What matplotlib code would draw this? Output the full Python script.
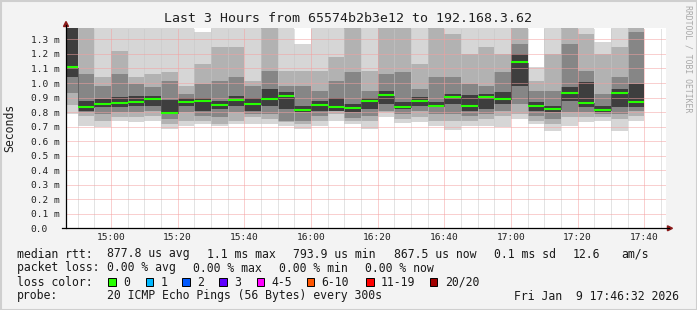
import matplotlib
matplotlib.use("Agg")
import matplotlib.pyplot as plt
from matplotlib.patches import Rectangle, Polygon

# ---------------- data ----------------
bar_starts = ["14:45", "14:50", "14:55", "15:00", "15:05", "15:10", "15:15",
              "15:20", "15:25", "15:30", "15:35", "15:40", "15:45", "15:50",
              "15:55", "16:00", "16:05", "16:10", "16:15", "16:20", "16:25",
              "16:30", "16:35", "16:40", "16:45", "16:50", "16:55", "17:00",
              "17:05", "17:10", "17:15", "17:20", "17:25", "17:30", "17:35"]

# median RTT per 5-minute step (ms)
median_ms = [1.112, 0.837, 0.855, 0.862, 0.869, 0.892, 0.7935, 0.869, 0.878, 0.851,
             0.885, 0.858, 0.892, 0.913, 0.812, 0.851, 0.837, 0.828, 0.878, 0.920,
             0.837, 0.878, 0.842, 0.906, 0.844, 0.906, 0.890, 1.147, 0.842, 0.823,
             0.933, 0.865, 0.812, 0.933, 0.8675]

# smoke bands (ms): outermost (lightest) to innermost (darkest)
band1_lo = [0.787, 0.706, 0.695, 0.741, 0.729, 0.741, 0.683, 0.706, 0.718, 0.706,
            0.718, 0.718, 0.718, 0.706, 0.683, 0.706, 0.741, 0.718, 0.683, 0.764,
            0.722, 0.729, 0.706, 0.676, 0.706, 0.706, 0.695, 0.752, 0.718, 0.667,
            0.706, 0.729, 0.741, 0.672, 0.741]
band1_hi = [1.45, 1.45, 1.45, 1.45, 1.45, 1.45, 1.45, 1.45, 1.349, 1.45,
            1.45, 1.45, 1.45, 1.45, 1.268, 1.45, 1.45, 1.45, 1.45, 1.45,
            1.45, 1.45, 1.45, 1.45, 1.45, 1.45, 1.45, 1.45, 1.108, 1.45,
            1.45, 1.45, 1.280, 1.45, 1.45]
band2_lo = [0.850, 0.775, 0.741, 0.764, 0.764, 0.775, 0.718, 0.741, 0.741, 0.718,
            0.741, 0.764, 0.752, 0.729, 0.718, 0.741, 0.787, 0.741, 0.741, 0.798,
            0.752, 0.764, 0.741, 0.741, 0.741, 0.752, 0.775, 0.787, 0.741, 0.718,
            0.764, 0.764, 0.764, 0.752, 0.775]
band2_hi = [1.45, 1.45, 1.039, 1.223, 1.039, 1.062, 1.074, 0.982, 1.131, 1.247,
            1.247, 1.016, 1.45, 1.085, 1.085, 1.085, 1.177, 1.45, 1.085, 1.45,
            1.45, 1.131, 1.45, 1.337, 1.200, 1.245, 1.200, 1.45, 1.016, 1.200,
            1.45, 1.337, 1.200, 1.245, 1.45]
band3_lo = [0.930, 0.800, 0.787, 0.798, 0.798, 0.810, 0.752, 0.798, 0.775, 0.764,
            0.798, 0.787, 0.787, 0.741, 0.741, 0.775, 0.805, 0.760, 0.775, 0.810,
            0.787, 0.805, 0.787, 0.787, 0.775, 0.787, 0.810, 0.856, 0.775, 0.752,
            0.798, 0.798, 0.787, 0.787, 0.810]
band3_hi = [1.45, 1.062, 0.982, 1.062, 0.993, 0.970, 1.016, 0.924, 0.993, 1.016,
            1.039, 0.982, 1.085, 0.982, 0.982, 0.947, 1.016, 1.074, 0.947, 1.062,
            1.074, 0.959, 1.039, 1.039, 0.993, 0.982, 1.074, 1.268, 0.947, 0.947,
            1.268, 1.085, 0.924, 1.039, 1.349]
band4_lo = [1.040, 0.810, 0.833, 0.833, 0.844, 0.844, 0.787, 0.844, 0.810, 0.821,
            0.844, 0.810, 0.844, 0.821, 0.798, 0.810, 0.810, 0.798, 0.821, 0.856,
            0.821, 0.844, 0.833, 0.856, 0.810, 0.821, 0.856, 0.982, 0.810, 0.798,
            0.879, 0.833, 0.798, 0.833, 0.833]
band4_hi = [1.45, 0.879, 0.891, 0.902, 0.913, 0.913, 0.884, 0.896, 0.896, 0.873,
            0.913, 0.896, 0.959, 0.935, 0.844, 0.873, 0.896, 0.856, 0.896, 0.947,
            0.867, 0.902, 0.867, 0.924, 0.918, 0.924, 0.935, 1.200, 0.867, 0.844,
            0.970, 1.005, 0.844, 0.959, 0.993]

ytick_values = [0.0, 0.1, 0.2, 0.3, 0.4, 0.5, 0.6, 0.7, 0.8, 0.9, 1.0, 1.1, 1.2, 1.3]
xtick_labels = ["15:00", "15:20", "15:40", "16:00", "16:20", "16:40", "17:00", "17:20", "17:40"]

loss_labels = ["0", "1", "2", "3", "4-5", "6-10", "11-19", "20/20"]
loss_colors = ["#26ff00", "#00b8ff", "#0059ff", "#5e00ff", "#ff00ff", "#ff5500", "#ff0000", "#a10000"]

title = "Last 3 Hours from 65574b2b3e12 to 192.168.3.62"

# ---------------- helpers ----------------
W, H = 697, 310
def fx(x):
    return x / W
def fy(y):
    return 1 - y / H
def tmin(s):
    h, m = s.split(":")
    return int(h) * 60 + int(m)

MONO = "DejaVu Sans Mono"
BG = "#f3f3f3"

fig = plt.figure(figsize=(W / 100, H / 100), dpi=100)
fig.patch.set_facecolor(BG)

ax = fig.add_axes([fx(66), fy(228.3), 600 / W, 200 / H])
ax.set_facecolor("white")

x0 = tmin("14:46") + 32 / 60
ax.set_xlim(x0, x0 + 180)
ax.set_ylim(0, 1.3765)

starts = [tmin(s) for s in bar_starts]
step = 5

bands = [(band1_lo, band1_hi, "#d6d6d6"),
         (band2_lo, band2_hi, "#b2b2b2"),
         (band3_lo, band3_hi, "#868686"),
         (band4_lo, band4_hi, "#3e3e3e")]
for k, (lo, hi, col) in enumerate(bands):
    ax.bar(starts, [h - l for l, h in zip(lo, hi)], bottom=lo, width=step,
           align="edge", color=col, linewidth=0, zorder=1 + k * 0.1)

# median connectors
for i in range(1, len(starts)):
    ax.vlines(starts[i], min(median_ms[i - 1], median_ms[i]), max(median_ms[i - 1], median_ms[i]),
              colors="#202020", linestyles=(0, (1, 1)), linewidth=0.72, zorder=3)
# medians
ax.hlines(median_ms, starts, [s + step for s in starts], colors=loss_colors[0],
          linewidth=1.5, zorder=4)

# grid
ax.set_axisbelow(False)
ax.set_xticks([tmin(t) for t in xtick_labels])
ax.set_xticklabels(xtick_labels)
ax.set_xticks([tmin("14:50") + 5 * i for i in range(36)], minor=True)
ax.set_yticks(ytick_values)
ax.set_yticklabels(["0.0"] + ["%.1f m" % v for v in ytick_values[1:]])
ax.grid(which="minor", axis="x", color="#c8c8c8", linestyle=(0, (1, 1)), linewidth=0.72)
ax.grid(which="major", axis="both", color="#f4a0a0", linestyle=(0, (1, 1)), linewidth=0.72)

ax.tick_params(axis="both", which="both", length=0)
ax.tick_params(axis="x", pad=3.5, labelsize=6.8, labelcolor="#202020")
ax.tick_params(axis="y", pad=25.4, labelsize=6.8, labelcolor="#202020")
for lab in ax.get_yticklabels():
    lab.set_horizontalalignment("left")
    lab.set_fontfamily(MONO)
for lab in ax.get_xticklabels():
    lab.set_fontfamily(MONO)

for sp in ax.spines.values():
    sp.set_visible(False)

# axis lines with arrows (figure pixel coords)
fig.add_artist(plt.Line2D([fx(66), fx(66)], [fy(228.3), fy(25)], color="black", linewidth=0.9))
fig.add_artist(plt.Line2D([fx(62), fx(669)], [fy(228.3), fy(228.3)], color="black", linewidth=0.9))
fig.add_artist(Polygon([[fx(63.5), fy(26.5)], [fx(68.5), fy(26.5)], [fx(66), fy(21.5)]],
                       closed=True, color="#8b1a1a", transform=fig.transFigure))
fig.add_artist(Polygon([[fx(667.5), fy(225.8)], [fx(667.5), fy(230.8)], [fx(672.5), fy(228.3)]],
                       closed=True, color="#8b1a1a", transform=fig.transFigure))

# title and labels
fig.text(fx(348), fy(19), title, ha="center", va="center", fontsize=9.55,
         family=MONO, color="#202020")
fig.text(fx(10), fy(128), "Seconds", rotation=90, ha="center", va="center",
         fontsize=8.3, family=MONO, color="#202020")
fig.text(fx(688), fy(59), "RRDTOOL / TOBI OETIKER", rotation=270, ha="center", va="center",
         fontsize=5.9, family=MONO, color="#a8a8a8")

# legend / statistics
def t(x, y, s, **kw):
    fig.text(fx(x), fy(y), s, ha="left", va="center", fontsize=8.3, family=MONO,
             color="#1a1a1a", **kw)

y1, y2, y3, y4 = 254, 268, 282, 296
t(16.7, y1, "median rtt:")
t(107.3, y1, "877.8 us avg")
t(207.3, y1, "1.1 ms max")
t(292.7, y1, "793.9 us min")
t(393.7, y1, "867.5 us now")
t(493.7, y1, "0.1 ms sd")
t(573, y1, "12.6")
t(621, y1, "am/s")

t(16.7, y2, "packet loss:")
t(107.3, y2, "0.00 % avg")
t(193.3, y2, "0.00 % max")
t(279.3, y2, "0.00 % min")
t(365.3, y2, "0.00 % now")

t(16.7, y3, "loss color:")
sw_x = [108.3, 145.7, 182.3, 219.0, 256.7, 306.7, 366.0, 429.7]
for sx, lab, col in zip(sw_x, loss_labels, loss_colors):
    fig.add_artist(Rectangle((fx(sx), fy(y3 + 4)), 7.7 / W, 8 / H, facecolor=col,
                             edgecolor="black", linewidth=0.7, transform=fig.transFigure))
    t(sx + 15, y3, lab)

t(16.7, y4, "probe:")
t(107.3, y4, "20 ICMP Echo Pings (56 Bytes) every 300s")
t(513.7, y4, "Fri Jan  9 17:46:32 2026")

# frame
fig.add_artist(Rectangle((0.5 / W, 0.5 / H), (W - 1) / W, (H - 1) / H, fill=False,
                         edgecolor="#cfcfcf", linewidth=1.5, transform=fig.transFigure))

fig.savefig("out.png", dpi=100, facecolor=BG)
